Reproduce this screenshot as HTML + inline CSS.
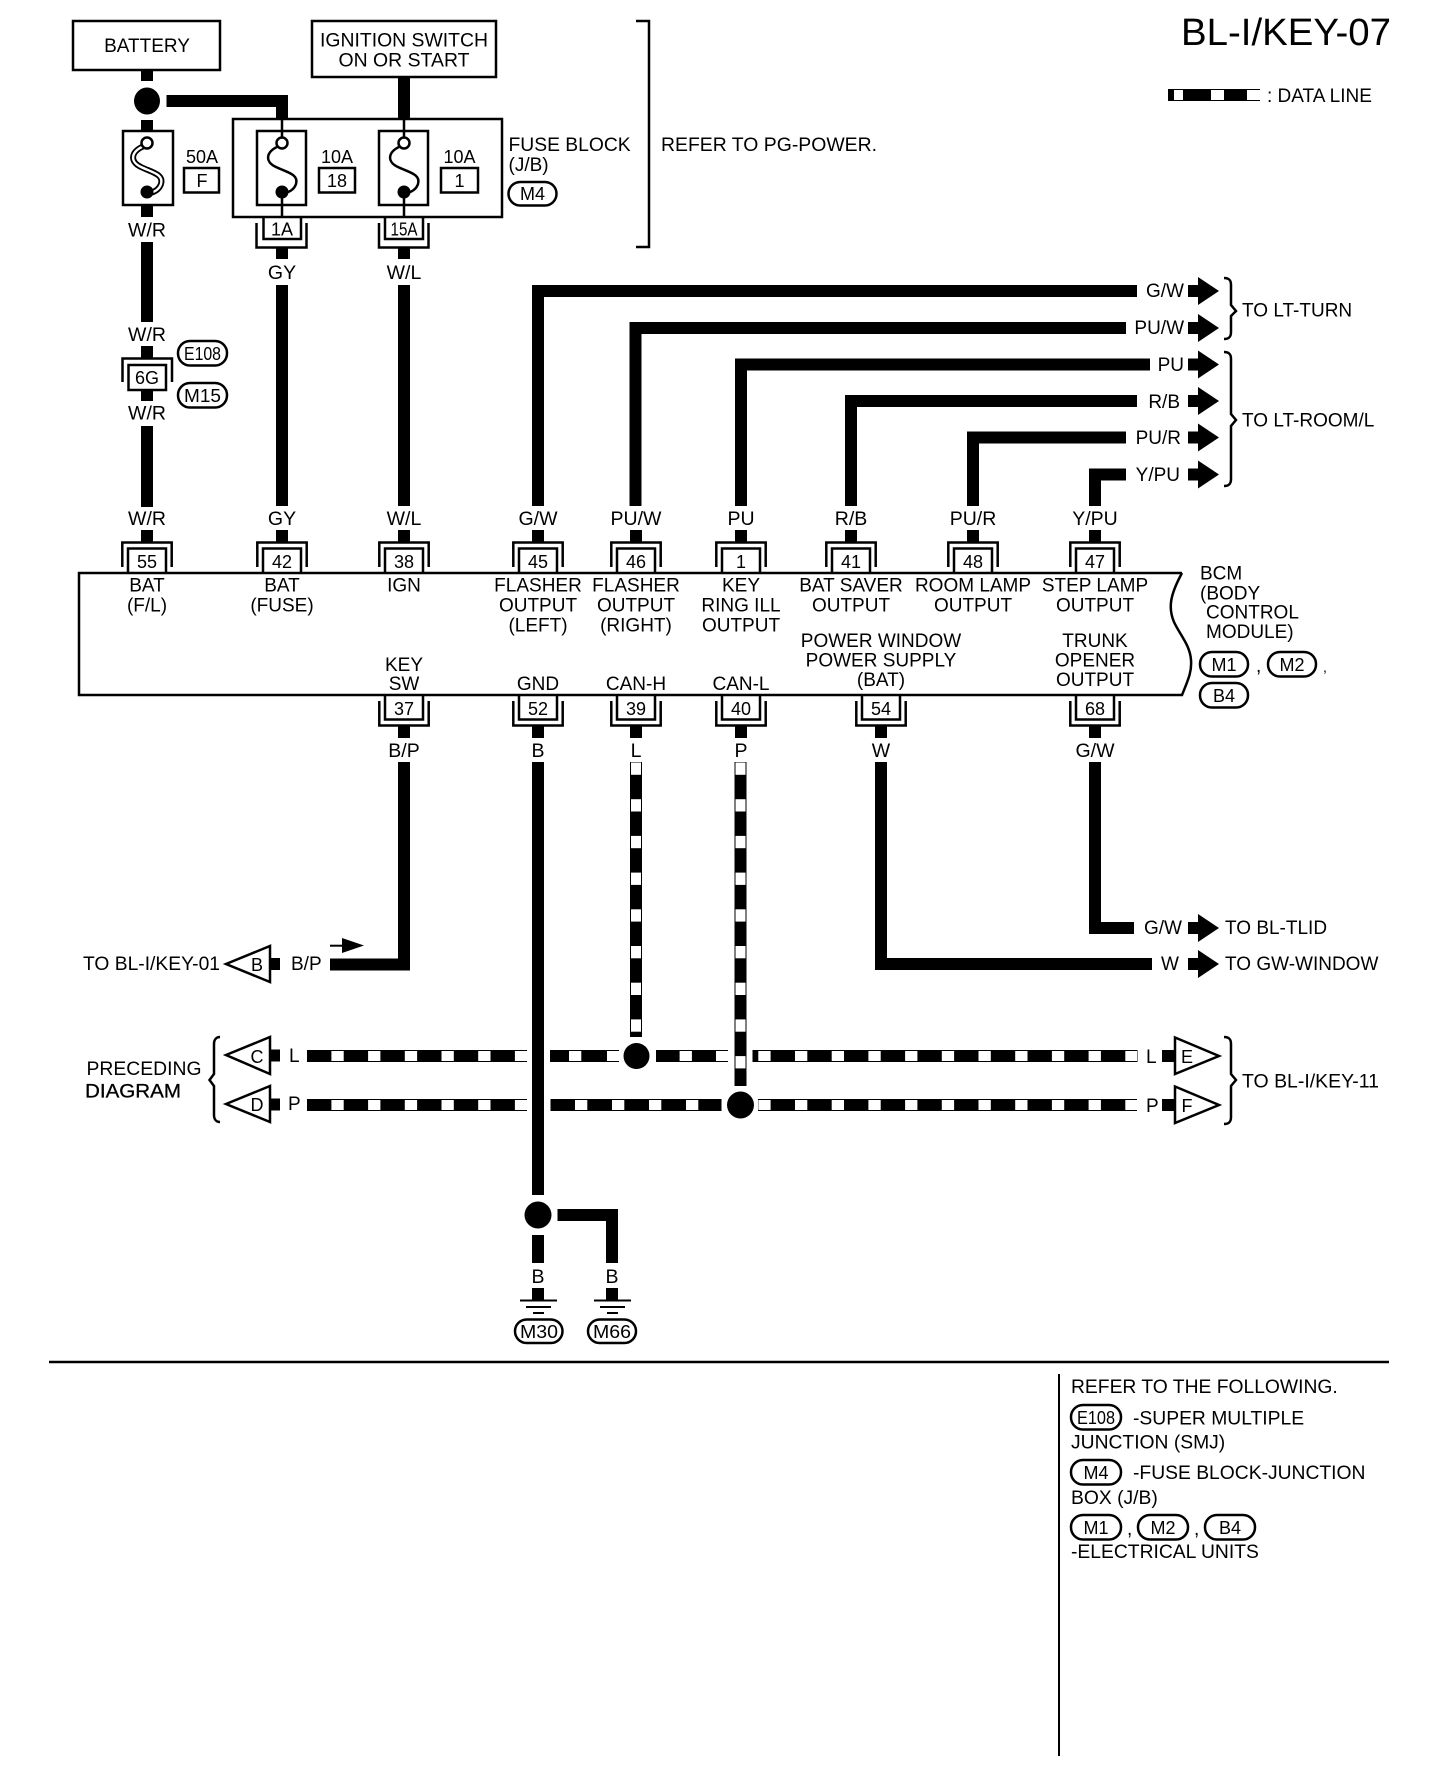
<!DOCTYPE html>
<html><head><meta charset="utf-8"><title>BL-I/KEY-07</title>
<style>
html,body{margin:0;padding:0;background:#fff}
svg{display:block}
text{font-family:"Liberation Sans",sans-serif;font-size:19px;fill:#000}
.m{text-anchor:middle}
.n{font-size:18px;text-anchor:middle}
.w{font-size:19.5px;text-anchor:middle}
.l{font-size:19.3px}
.t{fill:none;stroke:#000;stroke-width:2.5}
.p{fill:#fff;stroke:#000;stroke-width:2.5}
.k{fill:none;stroke:#000;stroke-width:12;stroke-linejoin:miter}
</style></head><body>
<svg xmlns="http://www.w3.org/2000/svg" width="1440" height="1784" viewBox="0 0 1440 1784">
<defs>
<g id="ct"><rect x="-6" y="530" width="12" height="13" fill="#000"/><path class="t" d="M-24.7 567V542.5H24.7V567M-19 573V548.5H19V573"/></g>
<g id="cb"><rect x="-6" y="725" width="12" height="13" fill="#000"/><path class="t" d="M-19 695V719.5H19V695M-24.7 701V725.5H24.7V701"/></g>
<g id="ar"><rect x="0" y="-6" width="11" height="12" fill="#000"/><polygon points="10,-14 31,0 10,14" fill="#000"/></g>
<path id="fz" d="M-3 3C-17 9 -17 19 -6 24C4 29 17 31 14 41C12 47 7 49 3 50"/>
</defs>

<!-- title -->
<text x="1181" y="45" style="font-size:38px" textLength="210" lengthAdjust="spacingAndGlyphs">BL-I/KEY-07</text>
<rect x="1168" y="89" width="92" height="12" fill="#000"/>
<rect x="1174" y="90" width="9" height="10" fill="#fff"/><rect x="1211" y="90" width="13" height="10" fill="#fff"/><rect x="1247" y="90" width="13" height="10" fill="#fff"/>
<text x="1267" y="102">: DATA LINE</text>

<!-- top boxes -->
<rect class="t" x="73" y="21" width="147" height="49"/>
<text class="m" x="147" y="52">BATTERY</text>
<rect class="t" x="312" y="21" width="184" height="56"/>
<text class="m" x="404" y="46.500" textLength="168" lengthAdjust="spacingAndGlyphs">IGNITION SWITCH</text>
<text class="m" x="404" y="66.500" textLength="131" lengthAdjust="spacingAndGlyphs">ON OR START</text>

<!-- battery feed -->
<rect x="141" y="70" width="12" height="11" fill="#000"/>
<ellipse cx="147" cy="101" rx="13" ry="13.5" fill="#000"/>
<rect x="141" y="120" width="12" height="11" fill="#000"/>
<path class="k" d="M166.5 101H282V119"/>
<rect x="398" y="77" width="12" height="42" fill="#000"/>

<!-- fuse block -->
<rect class="t" x="233" y="119" width="269" height="98"/>
<path class="t" d="M282 119V138M282 197V217M404 119V138M404 197V217"/>

<!-- fuses -->
<rect class="t" x="123" y="131" width="50" height="74"/>
<rect class="t" x="257" y="131" width="49" height="74"/>
<rect class="t" x="379" y="131" width="49" height="74"/>
<use href="#fz" transform="translate(147,143)" fill="none" stroke="#000" stroke-width="6"/>
<use href="#fz" transform="translate(147,143)" fill="none" stroke="#fff" stroke-width="2.4"/>
<use href="#fz" transform="translate(282,143)" fill="none" stroke="#000" stroke-width="2.5"/>
<use href="#fz" transform="translate(404,143)" fill="none" stroke="#000" stroke-width="2.5"/>
<circle cx="147" cy="143" r="5.5" class="p"/><circle cx="282" cy="143" r="5.5" class="p"/><circle cx="404" cy="143" r="5.5" class="p"/>
<circle cx="147" cy="192" r="6.5"/><circle cx="282" cy="192" r="6.5"/><circle cx="404" cy="192" r="6.5"/>
<rect x="141" y="205" width="12" height="12" fill="#000"/>

<text class="n" x="202" y="163">50A</text><rect x="184" y="168" width="35" height="24.5" class="t"/><text class="n" x="202" y="187">F</text>
<text class="n" x="337" y="163">10A</text><rect x="319" y="168" width="36" height="24.5" class="t"/><text class="n" x="337" y="187">18</text>
<text class="n" x="459.5" y="163">10A</text><rect x="441" y="168" width="37" height="24.5" class="t"/><text class="n" x="459.5" y="187">1</text>
<text x="508.5" y="151" class="l">FUSE BLOCK</text><text x="508.5" y="171">(J/B)</text>
<rect class="p" x="508.5" y="182" width="48" height="23.5" rx="11.7"/><text class="n" x="532.5" y="200">M4</text>
<path class="t" d="M636 21H649V247H636"/>
<text x="661" y="151" textLength="216" lengthAdjust="spacingAndGlyphs">REFER TO PG-POWER.</text>

<!-- 1A / 15A -->
<path class="t" d="M263.5 217V239H301V217M256.5 223V247.5H306.5V223"/>
<path class="t" d="M385 217V239H423V217M379 223V247.5H428.5V223"/>
<rect x="276" y="247" width="12" height="12" fill="#000"/><rect x="398" y="247" width="12" height="12" fill="#000"/>
<text class="n" x="282" y="235.500">1A</text>
<text class="n" x="404" y="235.500" textLength="27" lengthAdjust="spacingAndGlyphs">15A</text>
<text class="w" x="147" y="236.5">W/R</text><text class="w" x="282" y="279">GY</text><text class="w" x="404" y="279">W/L</text>

<!-- W/R line -->
<rect x="141" y="242" width="12" height="80" fill="#000"/>
<text class="w" x="147" y="341">W/R</text>
<rect x="141" y="346" width="12" height="13" fill="#000"/>
<path class="t" d="M122.5 382V358.5H172V382"/>
<rect class="p" x="128.5" y="365" width="37.5" height="25"/>
<text class="n" x="147" y="384">6G</text>
<rect x="141" y="390" width="12" height="11" fill="#000"/>
<text class="w" x="147" y="419.5">W/R</text>
<rect x="141" y="426" width="12" height="81" fill="#000"/>
<rect class="p" x="178" y="341" width="49" height="24.5" rx="12"/>
<text class="n" x="202.5" y="360" textLength="37" lengthAdjust="spacingAndGlyphs">E108</text>
<rect class="p" x="178" y="383" width="49" height="24.5" rx="12"/>
<text class="n" x="202.5" y="402" textLength="37" lengthAdjust="spacingAndGlyphs">M15</text>

<!-- long verticals to BCM -->
<rect x="276" y="285" width="12" height="221" fill="#000"/>
<rect x="398" y="285" width="12" height="221" fill="#000"/>
<path class="k" d="M538 506V291H1137"/>
<path class="k" d="M635.5 506V328H1126"/>
<path class="k" d="M741 506V364.5H1150"/>
<path class="k" d="M851 506V401H1137"/>
<path class="k" d="M973 506V437.5H1126"/>
<path class="k" d="M1095 506V474.5H1126"/>

<!-- right labels & arrows -->
<text x="1184" y="297" text-anchor="end">G/W</text>
<text x="1184" y="334" text-anchor="end">PU/W</text>
<text x="1184" y="371" text-anchor="end">PU</text>
<text x="1180" y="408" text-anchor="end">R/B</text>
<text x="1181" y="444" text-anchor="end">PU/R</text>
<text x="1180" y="481" text-anchor="end">Y/PU</text>
<use href="#ar" transform="translate(1188,291)"/><use href="#ar" transform="translate(1188,328)"/><use href="#ar" transform="translate(1188,364.5)"/><use href="#ar" transform="translate(1188,401)"/><use href="#ar" transform="translate(1188,437.5)"/><use href="#ar" transform="translate(1188,474.5)"/>
<path class="t" d="M1224 278C1229 278 1231 280 1231 285V305L1236 311L1231 316V332C1231 337 1229 339 1224 339"/>
<path class="t" d="M1224 352C1229 352 1231 354 1231 359V414L1236 420L1231 426V479C1231 484 1229 486 1224 486"/>
<text x="1242" y="316.500">TO LT-TURN</text>
<text x="1242" y="426.500">TO LT-ROOM/L</text>

<!-- BCM -->
<path class="t" d="M1182 573H79V695H1182C1188 680 1192 672 1191 660C1190 645 1180 635 1174 622C1168 608 1170 595 1182 573" fill="#fff"/>

<!-- top wire labels -->
<text class="w" x="147" y="525">W/R</text><text class="w" x="282" y="525">GY</text><text class="w" x="404" y="525">W/L</text><text class="w" x="538" y="525">G/W</text><text class="w" x="636" y="525">PU/W</text><text class="w" x="741" y="525">PU</text><text class="w" x="851" y="525">R/B</text><text class="w" x="973" y="525">PU/R</text><text class="w" x="1095" y="525">Y/PU</text>

<!-- top connectors -->
<use href="#ct" x="147"/><use href="#ct" x="282"/><use href="#ct" x="404"/><use href="#ct" x="538"/><use href="#ct" x="636"/><use href="#ct" x="741"/><use href="#ct" x="851"/><use href="#ct" x="973"/><use href="#ct" x="1095"/>
<text class="n" x="147" y="568">55</text><text class="n" x="282" y="568">42</text><text class="n" x="404" y="568">38</text><text class="n" x="538" y="568">45</text><text class="n" x="636" y="568">46</text><text class="n" x="741" y="568">1</text><text class="n" x="851" y="568">41</text><text class="n" x="973" y="568">48</text><text class="n" x="1095" y="568">47</text>

<!-- BCM text -->
<text class="m" x="147" y="591.5">BAT</text><text class="m" x="147" y="611.5">(F/L)</text>
<text class="m" x="282" y="591.5">BAT</text><text class="m" x="282" y="611.5">(FUSE)</text>
<text class="m" x="404" y="591.5">IGN</text>
<text class="m" x="538" y="591.5">FLASHER</text><text class="m" x="538" y="611.5">OUTPUT</text><text class="m" x="538" y="631.5">(LEFT)</text>
<text class="m" x="636" y="591.5">FLASHER</text><text class="m" x="636" y="611.5">OUTPUT</text><text class="m" x="636" y="631.5">(RIGHT)</text>
<text class="m" x="741" y="591.5">KEY</text><text class="m" x="741" y="611.5">RING ILL</text><text class="m" x="741" y="631.5">OUTPUT</text>
<text class="m" x="851" y="591.5">BAT SAVER</text><text class="m" x="851" y="611.5">OUTPUT</text>
<text class="m" x="973" y="591.5">ROOM LAMP</text><text class="m" x="973" y="611.5">OUTPUT</text>
<text class="m" x="1095" y="591.5">STEP LAMP</text><text class="m" x="1095" y="611.5">OUTPUT</text>
<text class="m" x="881" y="647">POWER WINDOW</text><text class="m" x="881" y="666.500">POWER SUPPLY</text><text class="m" x="881" y="686">(BAT)</text>
<text class="m" x="1095" y="647">TRUNK</text><text class="m" x="1095" y="666.500">OPENER</text><text class="m" x="1095" y="686">OUTPUT</text>
<text class="m" x="404" y="671">KEY</text><text class="m" x="404" y="690">SW</text>
<text class="m" x="538" y="690">GND</text><text class="m" x="636" y="690">CAN-H</text><text class="m" x="741" y="690">CAN-L</text>

<text x="1200" y="579.500">BCM</text><text x="1200" y="599.500">(BODY</text><text x="1206" y="618.500">CONTROL</text><text x="1206" y="638">MODULE)</text>
<rect class="p" x="1200" y="652" width="48" height="24.5" rx="12"/><text class="n" x="1224" y="671">M1</text>
<text x="1256" y="672">,</text>
<rect class="p" x="1268" y="652" width="48" height="24.5" rx="12"/><text class="n" x="1292" y="671">M2</text>
<text x="1323" y="672" style="font-size:14px">,</text>
<rect class="p" x="1200" y="683" width="48" height="24.5" rx="12"/><text class="n" x="1224" y="702">B4</text>

<!-- bottom connectors -->
<use href="#cb" x="404"/><use href="#cb" x="538"/><use href="#cb" x="636"/><use href="#cb" x="741"/><use href="#cb" x="881"/><use href="#cb" x="1095"/>
<text class="n" x="404" y="715">37</text><text class="n" x="538" y="715">52</text><text class="n" x="636" y="715">39</text><text class="n" x="741" y="715">40</text><text class="n" x="881" y="715">54</text><text class="n" x="1095" y="715">68</text>
<text class="w" x="404" y="757">B/P</text><text class="w" x="538" y="757">B</text><text class="w" x="636" y="757">L</text><text class="w" x="741" y="757">P</text><text class="w" x="881" y="757">W</text><text class="w" x="1095" y="757">G/W</text>

<!-- lower wires -->
<path class="k" d="M404 762V964.5H330"/>
<path class="k" d="M881 762V964H1152"/>
<path class="k" d="M1095 762V928H1134"/>
<rect x="532" y="762" width="12" height="433" fill="#000"/>
<circle cx="538" cy="1215" r="13.5"/>
<rect x="532" y="1235" width="12" height="28" fill="#000"/>
<path class="k" d="M557.5 1215H612V1263"/>

<!-- data verticals -->
<rect x="630" y="762" width="12" height="275" fill="#000"/>
<rect x="734.5" y="762" width="12" height="324" fill="#000"/>
<g fill="#fff">
<rect x="631" y="762.5" width="10" height="12.3"/><rect x="631" y="799.2" width="10" height="12.3"/><rect x="631" y="835.9" width="10" height="12.3"/><rect x="631" y="872.6" width="10" height="12.3"/><rect x="631" y="909.3" width="10" height="12.3"/><rect x="631" y="946" width="10" height="12.3"/><rect x="631" y="982.7" width="10" height="12.3"/><rect x="631" y="1019.4" width="10" height="12.3"/>
<rect x="735.5" y="762.5" width="10" height="12.3"/><rect x="735.5" y="799.2" width="10" height="12.3"/><rect x="735.5" y="835.9" width="10" height="12.3"/><rect x="735.5" y="872.6" width="10" height="12.3"/><rect x="735.5" y="909.3" width="10" height="12.3"/><rect x="735.5" y="946" width="10" height="12.3"/><rect x="735.5" y="982.7" width="10" height="12.3"/><rect x="735.5" y="1019.4" width="10" height="12.3"/><rect x="735.5" y="1056.1" width="10" height="12.3"/>
</g>

<!-- data horizontals -->
<g fill="#000">
<rect x="307" y="1050" width="220" height="12"/><rect x="550" y="1050" width="69" height="12"/><rect x="656" y="1050" width="72" height="12"/><rect x="752.5" y="1050" width="385" height="12"/>
<rect x="307" y="1099" width="220" height="12"/><rect x="550.5" y="1099" width="171" height="12"/><rect x="758" y="1099" width="379" height="12"/>
</g>
<g fill="#fff">
<rect x="331.4" y="1051" width="12.3" height="10"/><rect x="368.1" y="1051" width="12.3" height="10"/><rect x="404.8" y="1051" width="12.3" height="10"/><rect x="441.5" y="1051" width="12.3" height="10"/><rect x="478.2" y="1051" width="12.3" height="10"/><rect x="514.9" y="1051" width="12.3" height="10"/>
<rect x="569" y="1051" width="12.3" height="10"/><rect x="607" y="1051" width="12.3" height="10"/><rect x="679.6" y="1051" width="12.3" height="10"/><rect x="716" y="1051" width="12" height="10"/>
<rect x="758.3" y="1051" width="12.3" height="10"/><rect x="795" y="1051" width="12.3" height="10"/><rect x="831.7" y="1051" width="12.3" height="10"/><rect x="868.4" y="1051" width="12.3" height="10"/><rect x="905.1" y="1051" width="12.3" height="10"/><rect x="941.8" y="1051" width="12.3" height="10"/><rect x="978.5" y="1051" width="12.3" height="10"/><rect x="1015.2" y="1051" width="12.3" height="10"/><rect x="1051.9" y="1051" width="12.3" height="10"/><rect x="1088.6" y="1051" width="12.3" height="10"/><rect x="1125.3" y="1051" width="11.7" height="10"/>
<rect x="331.4" y="1100" width="12.3" height="10"/><rect x="368.1" y="1100" width="12.3" height="10"/><rect x="404.8" y="1100" width="12.3" height="10"/><rect x="441.5" y="1100" width="12.3" height="10"/><rect x="478.2" y="1100" width="12.3" height="10"/><rect x="514.9" y="1100" width="12.3" height="10"/>
<rect x="575" y="1100" width="12.3" height="10"/><rect x="612" y="1100" width="12.3" height="10"/><rect x="649" y="1100" width="12.3" height="10"/><rect x="686" y="1100" width="12.3" height="10"/>
<rect x="758.3" y="1100" width="12.3" height="10"/><rect x="795" y="1100" width="12.3" height="10"/><rect x="831.7" y="1100" width="12.3" height="10"/><rect x="868.4" y="1100" width="12.3" height="10"/><rect x="905.1" y="1100" width="12.3" height="10"/><rect x="941.8" y="1100" width="12.3" height="10"/><rect x="978.5" y="1100" width="12.3" height="10"/><rect x="1015.2" y="1100" width="12.3" height="10"/><rect x="1051.9" y="1100" width="12.3" height="10"/><rect x="1088.6" y="1100" width="12.3" height="10"/><rect x="1125.3" y="1100" width="11.7" height="10"/>
</g>
<ellipse cx="636.5" cy="1056" rx="13" ry="13"/>
<circle cx="740.5" cy="1105" r="13.5"/>

<!-- lower-right labels -->
<text x="1144" y="934">G/W</text><use href="#ar" transform="translate(1188,928)"/><text x="1225" y="934">TO BL-TLID</text>
<text x="1161" y="970">W</text><use href="#ar" transform="translate(1188,964)"/><text x="1225" y="970">TO GW-WINDOW</text>

<!-- left off-page -->
<text x="83" y="970" textLength="137" lengthAdjust="spacingAndGlyphs">TO BL-I/KEY-01</text>
<polygon class="p" points="226,964 270,946 270,982"/><rect x="270" y="958" width="10" height="12" fill="#000"/>
<text class="n" x="257" y="971">B</text><text x="291" y="970">B/P</text>
<path d="M330 945.7H345" stroke="#000" stroke-width="2"/><polygon points="342,938 364,945.5 342,953" fill="#000"/>

<polygon class="p" points="226,1055 270,1037 270,1074"/><rect x="270" y="1049.5" width="10" height="12" fill="#000"/>
<text class="n" x="257" y="1063">C</text><text x="289" y="1062">L</text>
<polygon class="p" points="226,1104 270,1086 270,1122"/><rect x="270" y="1098.5" width="10" height="12" fill="#000"/>
<text class="n" x="257" y="1111">D</text><text x="288" y="1110">P</text>
<path class="t" d="M220 1037C216 1037 214 1040 214 1044V1074L209.500 1080L214 1086V1115C214 1119 216 1122 220 1122"/>
<text x="86.500" y="1075" textLength="115" lengthAdjust="spacingAndGlyphs">PRECEDING</text>
<text x="85" y="1097.500" textLength="96" lengthAdjust="spacingAndGlyphs" style="stroke:#000;stroke-width:.3">DIAGRAM</text>

<!-- right off-page -->
<text x="1146" y="1063">L</text><text x="1146" y="1112">P</text>
<rect x="1162" y="1050" width="14" height="12" fill="#000"/><rect x="1162" y="1099" width="14" height="12" fill="#000"/>
<polygon class="p" points="1175,1037.500 1219,1056 1175,1074"/><polygon class="p" points="1175,1086.500 1219,1105 1175,1123"/>
<text class="n" x="1187" y="1063">E</text><text class="n" x="1187" y="1112">F</text>
<path class="t" d="M1224 1037C1229 1037 1231 1039 1231 1044V1074L1236 1080L1231 1086V1117C1231 1122 1229 1124 1224 1124"/>
<text x="1242" y="1087.500" textLength="137" lengthAdjust="spacingAndGlyphs">TO BL-I/KEY-11</text>

<!-- grounds -->
<text class="w" x="538" y="1283">B</text><text class="w" x="612" y="1283">B</text>
<rect x="532" y="1288" width="12" height="12" fill="#000"/><rect x="606" y="1288" width="12" height="12" fill="#000"/>
<path class="t" d="M520 1300.500H557M526 1307H551M533 1313H544M594 1300.500H631M600 1307H625M607 1313H618" style="stroke-width:2"/>
<rect class="p" x="515" y="1319.500" width="47.500" height="23.500" rx="11.700"/><text class="n" x="539" y="1338" textLength="38" lengthAdjust="spacingAndGlyphs">M30</text>
<rect class="p" x="588" y="1319.500" width="48" height="23.500" rx="11.700"/><text class="n" x="612" y="1338" textLength="38" lengthAdjust="spacingAndGlyphs">M66</text>

<!-- footer rules -->
<path d="M49 1362H1389" stroke="#000" stroke-width="2.500"/>
<path d="M1059 1374V1756" stroke="#000" stroke-width="2"/>

<!-- legend -->
<text x="1071" y="1393" class="l">REFER TO THE FOLLOWING.</text>
<rect class="p" x="1071" y="1405" width="50" height="24.500" rx="12"/><text class="n" x="1096" y="1424" textLength="38" lengthAdjust="spacingAndGlyphs">E108</text>
<text x="1133" y="1424.500" class="l">-SUPER MULTIPLE</text>
<text x="1071" y="1448.500" class="l">JUNCTION (SMJ)</text>
<rect class="p" x="1071" y="1460" width="50" height="24.500" rx="12"/><text class="n" x="1096" y="1479">M4</text>
<text x="1133" y="1479" class="l">-FUSE BLOCK-JUNCTION</text>
<text x="1071" y="1504" class="l">BOX (J/B)</text>
<rect class="p" x="1071" y="1515" width="50" height="24.500" rx="12"/><text class="n" x="1096" y="1534">M1</text>
<text x="1127" y="1535">,</text>
<rect class="p" x="1138" y="1515" width="50" height="24.500" rx="12"/><text class="n" x="1163" y="1534">M2</text>
<text x="1194" y="1535">,</text>
<rect class="p" x="1205" y="1515" width="50" height="24.500" rx="12"/><text class="n" x="1230" y="1534">B4</text>
<text x="1071" y="1558" class="l">-ELECTRICAL UNITS</text>
</svg>
</body></html>
